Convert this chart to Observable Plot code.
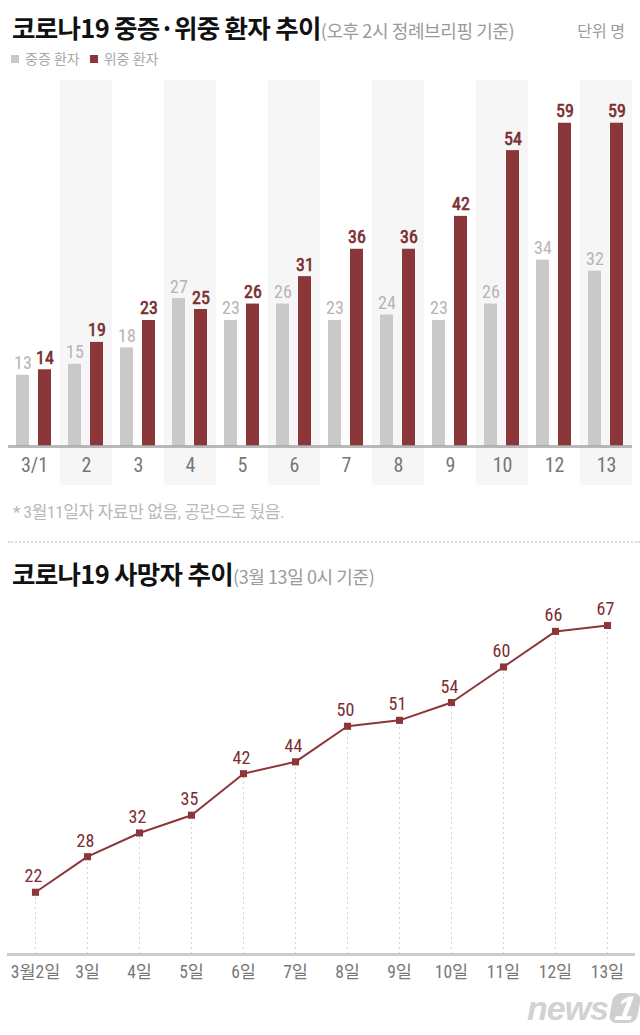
<!DOCTYPE html>
<html>
<head>
<meta charset="utf-8">
<script src="https://cdn.jsdelivr.net/npm/d3@7"></script>
<script src="https://cdn.jsdelivr.net/npm/@observablehq/plot@0.6"></script>
<style>
  html, body { margin: 0; padding: 0; background: #ffffff; }
  #root { position: relative; width: 640px; height: 1035px; overflow: hidden; background: #fff;
          font-family: "Liberation Sans Narrow", "Roboto Condensed", "Noto Sans CJK KR", sans-serif; }
  .abs { position: absolute; white-space: nowrap; }
  .title { font-family: "Liberation Sans Narrow", "Noto Sans CJK KR", sans-serif; font-weight: 700; font-size: 25.5px; line-height: 25px; color: #111; letter-spacing: -0.7px; }
  .sub { font-weight: 400; font-size: 18px; color: #9a9a9a; letter-spacing: -0.4px; }
  .unit { font-size: 16px; line-height: 16px; color: #9a9a9a; }
  .legend { font-size: 14px; line-height: 14px; color: #a8a8a8; display: flex; align-items: center; }
  .legend .sw { display: inline-block; width: 8px; height: 8px; margin-right: 6px; }
  .legend .item { display: flex; align-items: center; margin-right: 10px; }
  .note { font-size: 17px; line-height: 17px; color: #b8b8b8; letter-spacing: -0.3px; }
  .sep { left: 8px; right: 0; height: 0; border-top: 2px dotted #dddddd; }
  .logo { font-family: "Liberation Sans", "Roboto", sans-serif; font-style: italic; font-weight: 900; color: #d2d2d2; font-size: 34px; line-height: 30px; letter-spacing: -1px; }
  .logo .one { display: inline-block; background: #cfcfcf; color: #fff; border-radius: 8px; padding: 0 5px; margin-left: 3px; transform: skewX(-10deg); }
</style>
</head>
<body>
<div id="root">
  <div class="abs title" style="left:12px; top:14px;">코로나19 중증·위중 환자 추이<span class="sub">(오후 2시 정례브리핑 기준)</span></div>
  <div class="abs unit" style="right:15px; top:24px;">단위 명</div>
  <div class="abs legend" id="legend" style="left:11px; top:52px;"></div>
  <div class="abs" id="chart1" style="left:0; top:80px;"></div>
  <div class="abs note" style="left:13px; top:504px;">* 3월11일자 자료만 없음, 공란으로 뒀음.</div>
  <div class="abs sep" style="top:541px;"></div>
  <div class="abs title" style="left:12px; top:560px;">코로나19 사망자 추이<span class="sub">(3월 13일 0시 기준)</span></div>
  <div class="abs" id="chart2" style="left:0; top:590px;"></div>
  <div class="abs logo" style="left:527px; top:993px;">news<span class="one">1</span></div>
</div>
<script>
// ---- Data: top chart (중증 / 위중 환자) ----
const categories = ["3/1", "2", "3", "4", "5", "6", "7", "8", "9", "10", "12", "13"];
const severePatients = [13, 15, 18, 27, 23, 26, 23, 24, 23, 26, 34, 32];
const criticalPatients = [14, 19, 23, 25, 26, 31, 36, 36, 42, 54, 59, 59];
const shadedCategories = ["2", "4", "6", "8", "10", "13"];
const seriesKeys = ["중증", "위중"];
const seriesLabels = ["중증 환자", "위중 환자"];

// ---- Data: bottom chart (사망자) ----
const deathDays = ["3월2일", "3일", "4일", "5일", "6일", "7일", "8일", "9일", "10일", "11일", "12일", "13일"];
const deaths = [22, 28, 32, 35, 42, 44, 50, 51, 54, 60, 66, 67];

const GRAY = "#c9c9c9";
const RED = "#8b3639";
const NUM_FONT = "'Liberation Sans Narrow', 'Roboto Condensed', 'Noto Sans CJK KR', sans-serif";

// legend
const legend = document.getElementById("legend");
seriesLabels.forEach((lab, i) => {
  const it = document.createElement("span");
  it.className = "item";
  it.innerHTML = `<span class="sw" style="background:${[GRAY, RED][i]}"></span>${lab}`;
  legend.appendChild(it);
});

// top chart
const barData = categories.flatMap((c, i) => [
  {cat: c, s: seriesKeys[0], v: severePatients[i]},
  {cat: c, s: seriesKeys[1], v: criticalPatients[i]}
]);
const bandExtent = [-7.1, 66.8];

const chart1 = Plot.plot({
  width: 640,
  height: 405,
  marginTop: 0,
  marginBottom: 39,
  marginLeft: 6,
  marginRight: 6,
  style: {background: "transparent", fontFamily: NUM_FONT, overflow: "visible"},
  fx: {domain: categories, padding: 0, axis: null},
  x: {domain: seriesKeys, paddingInner: 0.4, paddingOuter: 0.37, axis: null},
  y: {domain: [0, bandExtent[1]], axis: null},
  color: {domain: seriesKeys, range: [GRAY, RED]},
  marks: [
    Plot.barY(shadedCategories, {fx: d => d, y1: bandExtent[0], y2: bandExtent[1], fill: "#f6f6f6"}),
    Plot.barY(barData, {fx: "cat", x: "s", y: "v", fill: "s"}),
    Plot.ruleY([0], {stroke: "#a8a8a8", strokeWidth: 3, strokeOpacity: 0.8}),
    Plot.text(barData.filter(d => d.s === seriesKeys[0]), {
      fx: "cat", x: "s", y: "v", text: d => String(d.v), lineAnchor: "bottom", dy: -6,
      fill: "#b5b5b5", fontSize: 18, fontFamily: NUM_FONT
    }),
    Plot.text(barData.filter(d => d.s === seriesKeys[1]), {
      fx: "cat", x: "s", y: "v", text: d => String(d.v), lineAnchor: "bottom", dy: -6,
      fill: "#7a2d32", stroke: "#7a2d32", strokeWidth: 0.6, fontSize: 18, fontFamily: NUM_FONT
    }),
    Plot.axisFx({anchor: "bottom", tickSize: 0, tickPadding: 11, fontSize: 20, color: "#777", label: null, fontFamily: NUM_FONT})
  ]
});
document.getElementById("chart1").appendChild(chart1);

// bottom chart
const deathData = deathDays.map((d, i) => ({day: d, v: deaths[i]}));
const yBase = 11.5;
const chart2 = Plot.plot({
  width: 640,
  height: 445,
  marginTop: 0,
  marginBottom: 81,
  marginLeft: 30.5,
  marginRight: 29,
  style: {background: "transparent", fontFamily: NUM_FONT, overflow: "visible"},
  x: {type: "point", domain: deathDays, padding: 0, axis: null},
  y: {domain: [yBase, 72.9], axis: null},
  marks: [
    Plot.ruleX(deathData, {x: "day", y1: yBase, y2: "v", stroke: "#d4d4d4", strokeWidth: 1, strokeDasharray: "2,3"}),
    Plot.ruleY([yBase], {stroke: "#cccccc", strokeWidth: 3, insetLeft: -23.5, insetRight: -24}),
    Plot.line(deathData, {x: "day", y: "v", stroke: RED, strokeWidth: 2}),
    Plot.dot(deathData, {x: "day", y: "v", symbol: "square", r: 4, fill: RED, stroke: null}),
    Plot.text(deathData, {x: "day", y: "v", text: d => String(d.v), lineAnchor: "bottom", dy: -10, dx: -2,
      fill: "#7a2d32", fontSize: 18, fontFamily: NUM_FONT}),
    Plot.axisX({tickSize: 0, tickPadding: 11, fontSize: 17.5, color: "#777", label: null, fontFamily: NUM_FONT})
  ]
});
document.getElementById("chart2").appendChild(chart2);
</script>
</body>
</html>
